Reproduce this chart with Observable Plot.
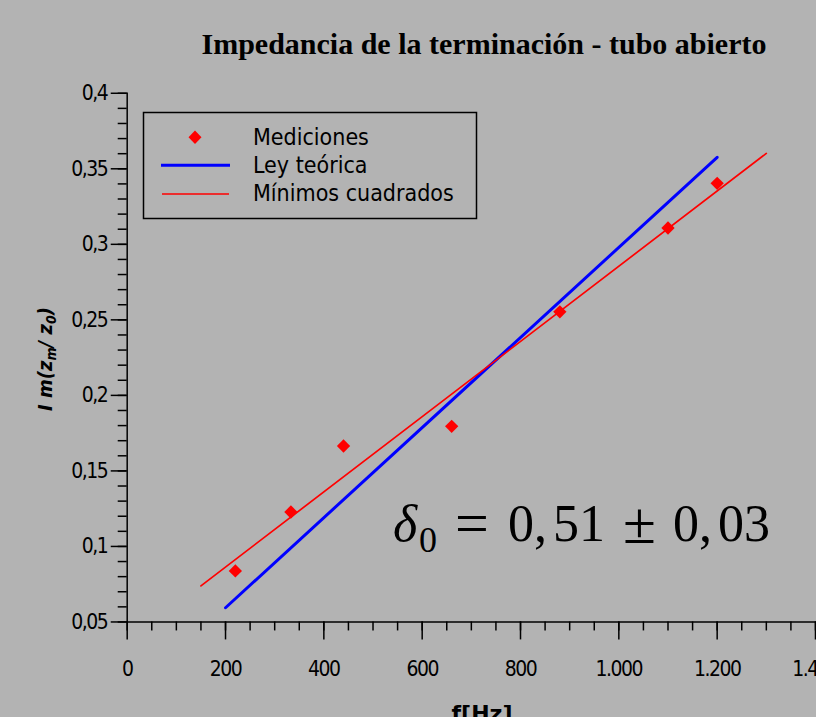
<!DOCTYPE html>
<html><head><meta charset="utf-8">
<script src="https://cdn.jsdelivr.net/npm/d3@7"></script>
<script src="https://cdn.jsdelivr.net/npm/@observablehq/plot@0.6"></script>
<style>
html,body{margin:0;padding:0;background:#b3b3b3;overflow:hidden;}
#wrap{position:relative;width:816px;height:717px;overflow:hidden;}
#wrap svg.over{position:absolute;left:0;top:0;}
#wrap [aria-label$="tick label"] text{letter-spacing:-1.5px;}
</style></head><body><div id="wrap"></div>
<script>
// ---- data ----
const freq = [220, 333, 440, 660, 880, 1100, 1200];
const imz = [0.0838, 0.1228, 0.1665, 0.1795, 0.2553, 0.3108, 0.3404];
const theoryF = [200, 1200];
const theoryImz = [0.0594, 0.3576];
const fitF = [150, 1300];
const fitImz = [0.0739, 0.3602];
const yMajor = [0.05, 0.1, 0.15, 0.2, 0.25, 0.3, 0.35, 0.4];
const yMinor = d3.range(5, 41).map(d => d / 100);
const xMajor = [0, 200, 400, 600, 800, 1000, 1200, 1400];
const xMinor = d3.range(0, 1401, 50);
const legendLabels = ["Mediciones", "Ley teórica", "Mínimos cuadrados"];
const titleText = "Impedancia de la terminación - tubo abierto";
const xLabel = "f[Hz]";

const locale = d3.formatLocale({decimal: ",", thousands: ".", grouping: [3], currency: ["", ""]});
const fx = locale.format(",");
const fy = d => String(+d.toFixed(2)).replace(".", ",");
const font = "'DejaVu Sans Condensed', 'DejaVu Sans', sans-serif";

const chart = Plot.plot({
  width: 818, height: 717,
  marginLeft: 127, marginRight: 1, marginTop: 93, marginBottom: 94,
  x: {domain: [0, 1400]},
  y: {domain: [0.05, 0.4]},
  style: {background: "#b3b3b3", fontFamily: font, fontSize: "21px", color: "black", overflow: "visible"},
  marks: [
    Plot.axisY(yMinor, {tickSize: 9, text: null, strokeWidth: 1.5, label: null}),
    Plot.axisY(yMajor, {tickSize: 16, tickPadding: 4, tickFormat: fy, strokeWidth: 1.5, label: null, fontSize: 21}),
    Plot.axisX(xMinor, {tickSize: 9, text: null, strokeWidth: 1.5, label: null}),
    Plot.axisX(xMajor, {tickSize: 18, tickPadding: 21, tickFormat: fx, strokeWidth: 1.5, label: null, fontSize: 21}),
    Plot.frame({anchor: "left", strokeWidth: 1.5}),
    Plot.frame({anchor: "bottom", strokeWidth: 1.5}),
    Plot.line(theoryF, {x: d => d, y: (d, i) => theoryImz[i], stroke: "#0000ff", strokeWidth: 3}),
    Plot.line(fitF, {x: d => d, y: (d, i) => fitImz[i], stroke: "#ff0000", strokeWidth: 1.7}),
    Plot.dot(freq, {x: d => d, y: (d, i) => imz[i], symbol: "diamond2", r: 6, fill: "#ff0000"})
  ]
});
const wrap = document.getElementById("wrap");
wrap.appendChild(chart);

const over = d3.select(wrap).append("svg").attr("class", "over")
  .attr("width", 816).attr("height", 717).style("font-family", font);

// title
over.append("text").attr("x", 484).attr("y", 54).attr("text-anchor", "middle")
  .attr("font-family", "'Liberation Serif', serif").attr("font-weight", "bold").attr("font-size", 30)
  .text(titleText);

// legend
const lg = over.append("g");
lg.append("rect").attr("x", 143.5).attr("y", 112.5).attr("width", 333).attr("height", 106)
  .attr("fill", "none").attr("stroke", "black").attr("stroke-width", 1.5);
lg.append("path").attr("d", "M195,130.5L201.5,137.3L195,144L188.5,137.3Z").attr("fill", "#ff0000");
lg.append("line").attr("x1", 161).attr("x2", 230).attr("y1", 165.3).attr("y2", 165.3).attr("stroke", "#0000ff").attr("stroke-width", 3);
lg.append("line").attr("x1", 162).attr("x2", 229).attr("y1", 194).attr("y2", 194).attr("stroke", "#ff0000").attr("stroke-width", 1.7);
const ly = [145, 173, 201];
legendLabels.forEach((t, i) => lg.append("text").attr("x", 253).attr("y", ly[i]).attr("font-size", 23).text(t));

// y label
const yl = over.append("text").attr("transform", "translate(52,359) rotate(-90)")
  .attr("text-anchor", "middle").attr("font-weight", "bold").attr("font-style", "italic").attr("font-size", 20);
yl.append("tspan").text("I m(z");
yl.append("tspan").attr("font-size", 14).attr("dy", 4).text("m");
yl.append("tspan").attr("dy", -4).text("/ z");
yl.append("tspan").attr("font-size", 14).attr("dy", 4).text("0");
yl.append("tspan").attr("dy", -4).text(")");

// x label
over.append("text").attr("x", 482).attr("y", 721).attr("text-anchor", "middle")
  .attr("font-weight", "bold").attr("font-size", 22).attr("font-family", "'DejaVu Sans', sans-serif").text(xLabel);

// formula
const ff = "'Liberation Serif', serif";
const fg = over.append("g").attr("font-family", ff).attr("font-size", 52);
fg.append("text").attr("x", 393).attr("y", 541).attr("font-style", "italic").text("δ");
fg.append("text").attr("x", 419).attr("y", 552).attr("font-size", 36).text("0");
fg.append("text").attr("x", 455).attr("y", 543).attr("font-size", 60).text("=");
const t1 = fg.append("text").attr("x", 508).attr("y", 541);
t1.append("tspan").text("0,"); t1.append("tspan").attr("dx", 6).text("51");
fg.append("text").attr("x", 623).attr("y", 543).attr("font-size", 60).text("±");
const t2 = fg.append("text").attr("x", 673).attr("y", 541);
t2.append("tspan").text("0,"); t2.append("tspan").attr("dx", 6).text("03");
</script></body></html>
